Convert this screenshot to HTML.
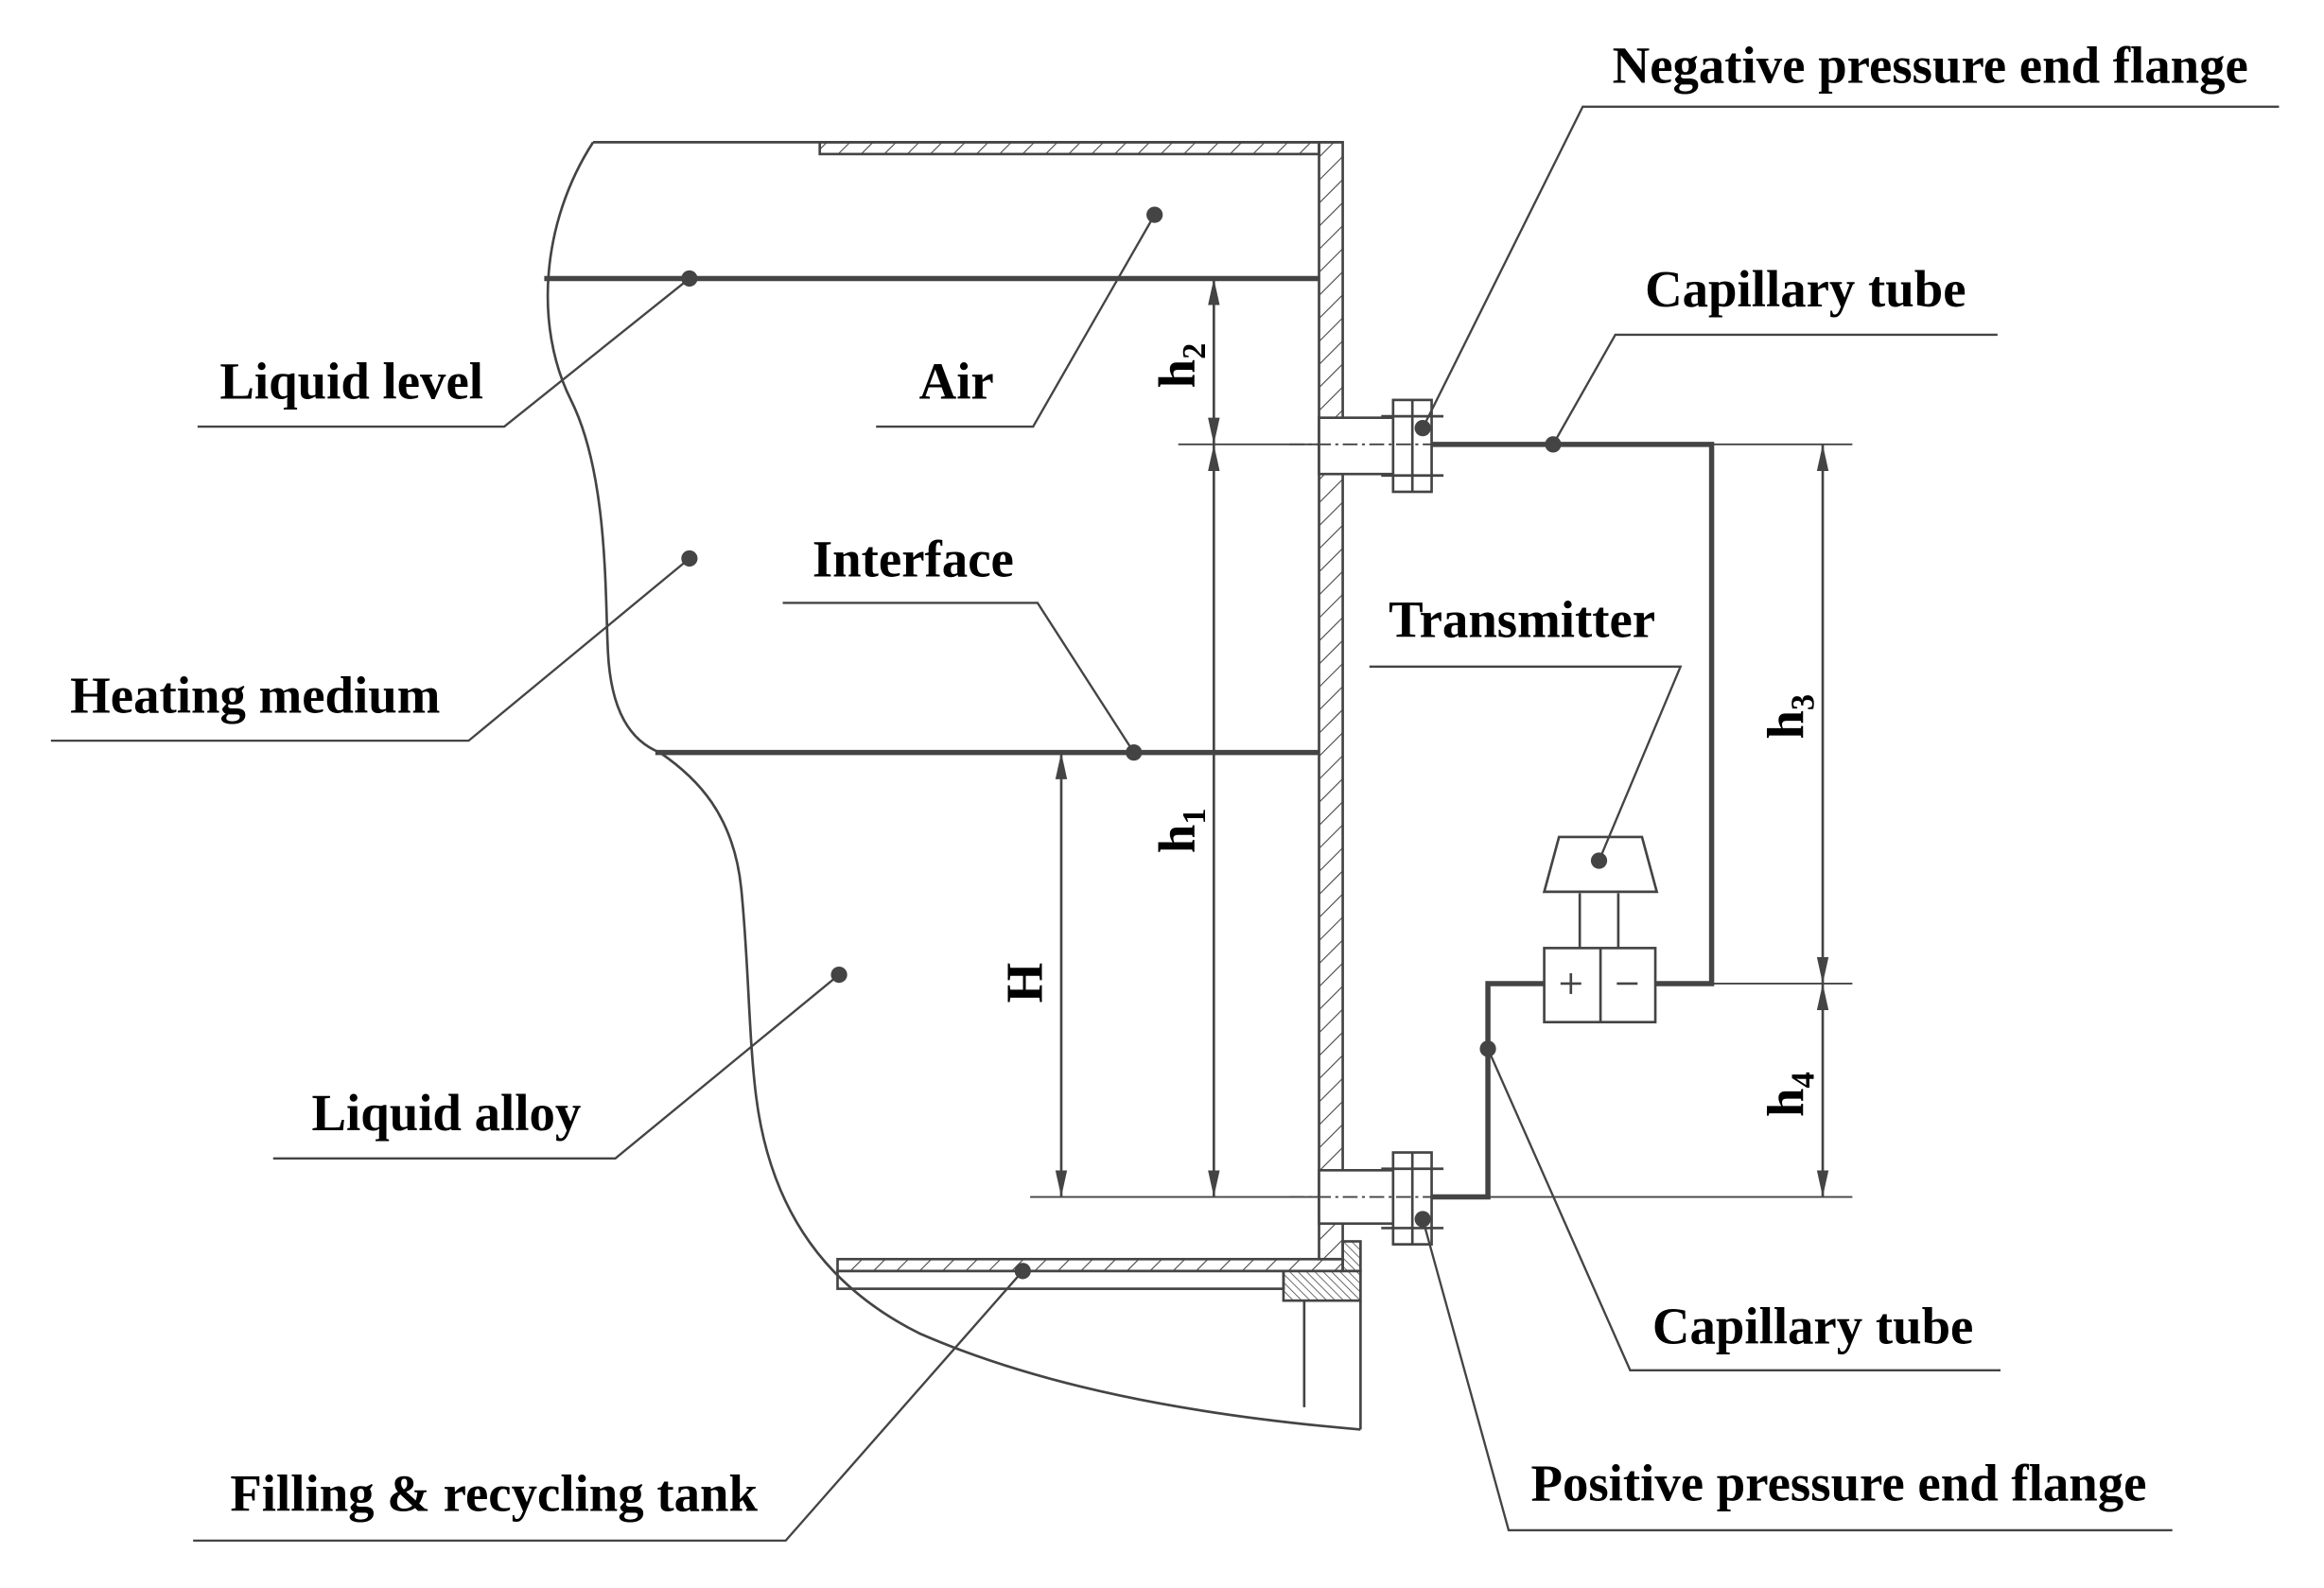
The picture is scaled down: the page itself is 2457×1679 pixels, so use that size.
<!DOCTYPE html>
<html><head><meta charset="utf-8"><style>
html,body{margin:0;padding:0;background:#fff;}
svg{display:block;}
text{font-family:"Liberation Serif",serif;font-weight:bold;fill:#000;}
</style></head><body>
<svg width="2457" height="1679" viewBox="0 0 1568 1072" xmlns="http://www.w3.org/2000/svg">
<defs>
<pattern id="h" patternUnits="userSpaceOnUse" width="11" height="11" patternTransform="rotate(45)">
<line x1="0" y1="0" x2="0" y2="11" stroke="#444" stroke-width="1.4"/></pattern>
<pattern id="h2" patternUnits="userSpaceOnUse" width="4" height="4" patternTransform="rotate(-45)">
<line x1="0" y1="0" x2="0" y2="4" stroke="#444" stroke-width="1"/></pattern>
<marker id="a" viewBox="0 0 10 10" refX="10" refY="5" markerWidth="18" markerHeight="18" markerUnits="userSpaceOnUse" orient="auto-start-reverse">
<path d="M0,2.8 L10,5 L0,7.2 z" fill="#444"/></marker>
</defs>
<g stroke="#444" fill="none" stroke-width="1.7">
<line x1="400" y1="96" x2="906" y2="96"/>
<rect x="553" y="96" width="337" height="8" fill="url(#h)"/>
<rect x="890" y="96" width="16" height="754" fill="url(#h)"/>
<rect x="565" y="850" width="341" height="8" fill="url(#h)"/>
<rect x="565" y="858" width="301" height="12"/>
<rect x="866" y="858" width="52" height="20" fill="url(#h2)"/>
<rect x="906" y="838" width="12" height="20" fill="url(#h2)"/>
<line x1="880" y1="878" x2="880" y2="950"/>
<line x1="918" y1="878" x2="918" y2="965"/>
<path d="M400,96 C365,150 360,220 385,270 C410,320 408,400 410,440 C412,480 425,500 445,508 C470,525 495,550 500,600 C505,650 505,700 510,740 C520,820 560,870 620,900 C700,935 800,955 918,965"/>
<line x1="367" y1="188" x2="890" y2="188" stroke-width="3.5"/>
<line x1="442" y1="508" x2="890" y2="508" stroke-width="3.5"/>
<line x1="795" y1="300" x2="1250" y2="300" stroke-width="1.2"/>
<line x1="695" y1="808" x2="1250" y2="808" stroke-width="1.2"/>
<line x1="1155" y1="664" x2="1250" y2="664" stroke-width="1.2"/>
<line x1="819" y1="188" x2="819" y2="300" marker-start="url(#a)" marker-end="url(#a)"/>
<line x1="819" y1="300" x2="819" y2="808" marker-start="url(#a)" marker-end="url(#a)"/>
<line x1="716" y1="508" x2="716" y2="808" marker-start="url(#a)" marker-end="url(#a)"/>
<line x1="1230" y1="300" x2="1230" y2="664" marker-start="url(#a)" marker-end="url(#a)"/>
<line x1="1230" y1="664" x2="1230" y2="808" marker-start="url(#a)" marker-end="url(#a)"/>
<rect x="890" y="282" width="50" height="38" fill="#fff"/>
<rect x="940" y="270" width="26" height="62" fill="#fff"/>
<line x1="953" y1="270" x2="953" y2="332"/>
<line x1="932" y1="281" x2="974" y2="281"/><line x1="932" y1="321" x2="974" y2="321"/>
<line x1="870" y1="300" x2="966" y2="300" stroke-width="1.2" stroke-dasharray="10,3,2,3"/>
<rect x="890" y="790" width="50" height="36" fill="#fff"/>
<rect x="940" y="778" width="26" height="62" fill="#fff"/>
<line x1="953" y1="778" x2="953" y2="840"/>
<line x1="932" y1="789" x2="974" y2="789"/><line x1="932" y1="829" x2="974" y2="829"/>
<line x1="870" y1="808" x2="966" y2="808" stroke-width="1.2" stroke-dasharray="10,3,2,3"/>
<polyline points="966,300 1155,300 1155,664 1117,664" stroke-width="3.5"/>
<polyline points="966,808 1004,808 1004,664 1042,664" stroke-width="3.5"/>
<rect x="1042" y="640" width="75" height="50" fill="#fff"/>
<line x1="1080" y1="640" x2="1080" y2="690"/>
<line x1="1053" y1="664" x2="1067" y2="664"/><line x1="1060" y1="657" x2="1060" y2="671"/>
<line x1="1091" y1="664" x2="1105" y2="664"/>
<line x1="1066" y1="603" x2="1066" y2="640"/><line x1="1092" y1="603" x2="1092" y2="640"/>
<polygon points="1052,565 1108,565 1118,602 1042,602"/>
<g stroke-width="1.5">
<polyline points="1538,72 1068,72 960,289"/>
<polyline points="1348,226 1090,226 1048,300"/>
<polyline points="924,450 1134,450 1079,581"/>
<polyline points="133,288 340,288 465,188"/>
<polyline points="591,288 697,288 779,145"/>
<polyline points="528,407 700,407 765,508"/>
<polyline points="34,500 316,500 465,377"/>
<polyline points="184,782 415,782 566,658"/>
<polyline points="130,1040 530,1040 690,858"/>
<polyline points="1350,925 1100,925 1004,708"/>
<polyline points="1466,1033 1018,1033 960,823"/>
</g>
</g>
<g fill="#444">
<circle cx="960" cy="289" r="5.5"/><circle cx="1048" cy="300" r="5.5"/><circle cx="1079" cy="581" r="5.5"/>
<circle cx="465" cy="188" r="5.5"/><circle cx="779" cy="145" r="5.5"/><circle cx="765" cy="508" r="5.5"/>
<circle cx="465" cy="377" r="5.5"/><circle cx="566" cy="658" r="5.5"/><circle cx="690" cy="858" r="5.5"/>
<circle cx="1004" cy="708" r="5.5"/><circle cx="960" cy="823" r="5.5"/>
</g>
<g font-size="35">
<text x="1088" y="56">Negative pressure end flange</text>
<text x="1110" y="207">Capillary tube</text>
<text x="937" y="430">Transmitter</text>
<text x="148" y="269">Liquid level</text>
<text x="620" y="269">Air</text>
<text x="548" y="389">Interface</text>
<text x="47" y="481">Heating medium</text>
<text x="210" y="763">Liquid alloy</text>
<text x="155" y="1020">Filling &amp; recycling tank</text>
<text x="1115" y="907">Capillary tube</text>
<text x="1033" y="1013">Positive pressure end flange</text>
<text transform="translate(806,262) rotate(-90)">h<tspan font-size="22" dy="7">2</tspan></text>
<text transform="translate(806,576) rotate(-90)">h<tspan font-size="22" dy="7">1</tspan></text>
<text transform="translate(703,677) rotate(-90)">H</text>
<text transform="translate(1217,499) rotate(-90)">h<tspan font-size="22" dy="7">3</tspan></text>
<text transform="translate(1217,754) rotate(-90)">h<tspan font-size="22" dy="7">4</tspan></text>
</g>
</svg>
</body></html>
